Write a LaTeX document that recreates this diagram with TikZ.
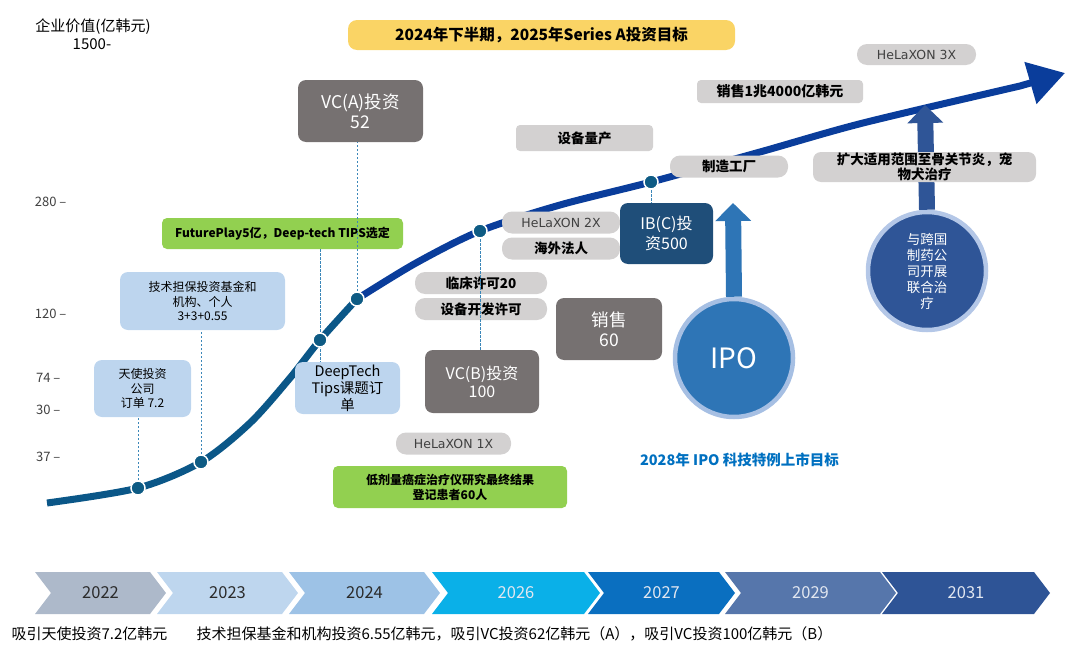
\documentclass[tikz,border=0pt]{standalone}
\usepackage{fontspec}
\setmainfont{Noto Sans CJK SC}
\newfontfamily\hxfont{DejaVu Sans}
\usepackage{tikz}
\usetikzlibrary{arrows.meta,positioning,calc}
\definecolor{curveteal}{HTML}{0B5788}
\definecolor{curvenavy}{HTML}{0A3D9B}
\definecolor{dotblue}{HTML}{0E5B84}
\definecolor{leaderblue}{HTML}{3B87B9}
\definecolor{boxgray}{HTML}{767171}
\definecolor{pillgray}{HTML}{D3D1D1}
\definecolor{paleblue}{HTML}{BDD5EE}
\definecolor{leafgreen}{HTML}{92D050}
\definecolor{goldbox}{HTML}{FAD465}
\definecolor{deepnavy}{HTML}{1F4E79}
\definecolor{ipoblue}{HTML}{2E75B6}
\definecolor{iporing}{HTML}{A6BFE3}
\definecolor{jvblue}{HTML}{2F5597}
\definecolor{jvring}{HTML}{B4C7E7}
\definecolor{targetblue}{HTML}{0070C0}
\definecolor{axisgray}{HTML}{404040}
\definecolor{yeardark}{HTML}{2B2B2B}
\definecolor{yearlight}{HTML}{E2E7F0}
\definecolor{tlA}{HTML}{ADB9CA}
\definecolor{tlB}{HTML}{BED6EE}
\definecolor{tlC}{HTML}{9DC2E6}
\definecolor{tlD}{HTML}{0AB0E8}
\definecolor{tlE}{HTML}{0A6FC0}
\definecolor{tlF}{HTML}{5676AB}
\definecolor{tlG}{HTML}{2E5496}
\newcommand{\fsz}[2]{\fontsize{#1}{#2}\selectfont}

\begin{document}
\begin{tikzpicture}[x=1pt,y=-1pt,>=Latex,
  every node/.style={font=\fsz{12}{14.5}},
  graybox/.style={fill=boxgray,rounded corners=8pt,text=white,align=center,inner sep=0pt},
  pill/.style={fill=pillgray,rounded corners=10pt,align=center,inner sep=0pt,font=\bfseries\fsz{13.5}{15}},
  hxpill/.style={fill=pillgray,rounded corners=10pt,inner sep=0pt,text=axisgray,font=\hxfont\fsz{12.5}{14}},
  palebox/.style={fill=paleblue,rounded corners=8pt,align=center,inner sep=0pt,text=black},
  greenbox/.style={fill=leafgreen,rounded corners=5pt,align=center,inner sep=0pt,font=\bfseries\fsz{12}{15}},
  curvedot/.style={circle,fill=dotblue,draw=white,line width=1.5pt,minimum size=14pt,inner sep=0pt},
  leader/.style={leaderblue,line width=1pt,dash pattern=on 2.5pt off 1.5pt},
  ylab/.style={anchor=east,text=axisgray,font=\fsz{13}{14}},
  bigdisc/.style={circle,line width=4.5pt,text=white,align=center,minimum size=118pt,inner sep=0pt},
  uparrow/.style={line width=16pt,-{Triangle[length=18pt,width=35pt]}}]
\useasboundingbox (0,0) rectangle (1080,653);

\node[font=\fsz{15}{17}] (axtitle) at (93,27) {企业价值(亿韩元)};
\node[font=\fsz{15}{17}] (axtop) at (92,44) {1500-};
\node[ylab] (y280) at (70,202) {280 –};
\node[ylab] (y120) at (70,314) {120 –};
\node[ylab] (y74) at (64,378) {74 –};
\node[ylab] (y30) at (64,410) {30 –};
\node[ylab] (y37) at (64,457) {37 –};

\node[fill=goldbox,rounded corners=9pt,minimum width=387,minimum height=30,inner sep=0pt,font=\bfseries\fsz{15.5}{17}] (goal) at (541.5,35) {2024年下半期，2025年Series A投资目标};

\foreach \n/\px/\py in {1/138/488,2/201/462,3/320/340,4/357/299,5/480/231,6/651/182}
  \coordinate (p\n) at (\px,\py);
\coordinate (tip) at (1065,73);
\draw[curveteal,line width=7pt] plot[smooth] coordinates {(47,503) (p1) (p2) (250,423) (290,378) (p3) (p4)};
\draw[curvenavy,line width=7pt,-{Triangle[length=36pt,width=42pt]}] plot[smooth] coordinates {(p4) (416,263) (p5) (560,205) (p6) (760,152) (863,123) (1020,86)} -- (tip);

\node[palebox,minimum width=97,minimum height=57] (angel) at (142.5,388.5) {天使投资\\公司\\订单 7.2};
\node[palebox,minimum width=165,minimum height=58] (fund) at (202.5,301) {技术担保投资基金和\\机构、个人\\3+3+0.55};
\node[greenbox,minimum width=241,minimum height=31] (fp) at (282.5,233.5) {FuturePlay5亿，Deep-tech TIPS选定};
\node[graybox,minimum width=125,minimum height=62,font=\fsz{17.5}{20}] (vca) at (360.5,111) {VC(A)投资\\52};
\node[palebox,minimum width=105,minimum height=52,font=\fsz{14.5}{17}] (dt) at (347.5,388) {DeepTech\\Tips课题订\\单};
\node[graybox,minimum width=114,minimum height=63,font=\fsz{16}{18}] (vcb) at (482,381.5) {VC(B)投资\\100};
\node[hxpill,minimum width=115,minimum height=22] (hx1) at (453.5,443.5) {HeLaXON 1X};
\node[greenbox,minimum width=234,minimum height=42] (lowdose) at (450,487) {低剂量癌症治疗仪研究最终结果\\登记患者60人};
\node[pill,minimum width=132,minimum height=22] (clin) at (481,283) {临床许可20};
\node[pill,minimum width=132,minimum height=22] (devlic) at (481,309) {设备开发许可};
\node[hxpill,minimum width=118,minimum height=22] (hx2) at (561,222.5) {HeLaXON 2X};
\node[pill,minimum width=118,minimum height=22] (overseas) at (561,248.5) {海外法人};
\node[graybox,fill=deepnavy,minimum width=93,minimum height=61,font=\fsz{16}{20}] (ibc) at (666.5,233.5) {IB(C)投\\资500};
\node[graybox,minimum width=106,minimum height=62,font=\fsz{17.5}{20}] (sales60) at (609,329) {销售\\60};
\node[pill,rounded corners=4pt,minimum width=137,minimum height=26] (massprod) at (584.5,138) {设备量产};
\node[pill,minimum width=118,minimum height=22] (factory) at (729,166.5) {制造工厂};
\node[pill,rounded corners=4pt,minimum width=166,minimum height=23,font=\bfseries\fsz{14}{15}] (sales1t) at (780,91.5) {销售1兆4000亿韩元};
\node[hxpill,minimum width=119,minimum height=21] (hx3) at (916.5,54.5) {HeLaXON 3X};

\draw[leader] (p1) -- (p1 |- angel.south);
\draw[leader] (p2) -- (p2 |- fund.south);
\draw[leader] (p3 |- fp.south) -- (p3 |- dt.north);
\draw[leader] (p4) -- (p4 |- vca.south);
\draw[leader] (p5) -- (p5 |- vcb.north);
\draw[leader] (p6) -- (p6 |- ibc.north);
\foreach \n in {1,...,6}
  \node[curvedot] (dot\n) at (p\n) {};

\node[bigdisc,fill=ipoblue,draw=iporing,font=\fsz{28}{30}] (ipo) at (734,358) {IPO};
\coordinate (ipotip) at (733,203);
\draw[ipoblue,uparrow] (ipo.north) -- (ipotip);
\node[bigdisc,fill=jvblue,draw=jvring,font=\fsz{13.5}{16}] (jv) at (927,271) {与跨国\\制药公\\司开展\\联合治\\疗};
\coordinate (jvtip) at (925,105);
\draw[jvblue,uparrow] (jv.north) -- (jvtip);
\node[pill,rounded corners=8pt,minimum width=223,minimum height=30,inner sep=0pt,font=\bfseries\fsz{13.5}{15}] (expand) at (924.5,167) {扩大适用范围至骨关节炎，宠\\物犬治疗};

\node[text=targetblue,font=\bfseries\fsz{14.5}{16}] (target) at (739.5,460) {2028年 IPO 科技特例上市目标};

\foreach \l/\r/\col/\yr/\tc in {35/150/tlA/2022/yeardark,157/282/tlB/2023/yeardark,289/424/tlC/2024/yeardark,432/584/tlD/2026/yearlight,588/719/tlE/2027/yearlight,725/880/tlF/2029/yearlight,882/1034/tlG/2031/yearlight}{
  \fill[\col] (\l,572) -- (\r,572) -- (\r+16,593) -- (\r,614) -- (\l,614) -- (\l+16,593) -- cycle;
  \node[font=\fsz{16.5}{18},text=\tc] (yr\yr) at ({(\l+\r)/2+8},593) {\yr};
}

\node[anchor=west,font=\fsz{15}{17}] (noteA) at (8,634) {吸引天使投资7.2亿韩元};
\node[anchor=west,font=\fsz{15}{17}] (noteB) at (193,634) {技术担保基金和机构投资6.55亿韩元，吸引VC投资62亿韩元（A），吸引VC投资100亿韩元（B）};
\end{tikzpicture}
\end{document}
